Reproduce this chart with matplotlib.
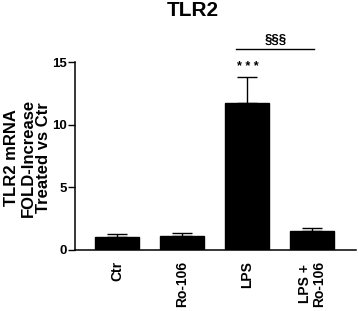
import matplotlib
matplotlib.use("Agg")
import matplotlib.pyplot as plt

# data
groups = ["Ctr", "Ro-106", "LPS", "LPS +\nRo-106"]
means = [1.04, 1.12, 11.77, 1.52]
sem = [0.19, 0.24, 2.08, 0.19]
ylabel_lines = ["TLR2 mRNA", "FOLD-Increase", "Treated vs Ctr"]

plt.rcParams["font.family"] = ["Liberation Sans", "DejaVu Sans"]
plt.rcParams["font.weight"] = "bold"

W, H = 358, 311
fig = plt.figure(figsize=(W / 100, H / 100), dpi=100)
ax = fig.add_axes([75 / W, 1 - 249.7 / H, 281 / W, (249.7 - 62.3) / H])

x = list(range(len(groups)))
ax.bar(x, means, width=0.675, color="black", edgecolor="black", zorder=2)
ax.errorbar(x, means, yerr=[[0] * len(sem), sem], fmt="none", ecolor="black",
            elinewidth=1.0, capsize=7.5, capthick=1.0, zorder=1)

ax.set_xlim(-0.65, 3.68)
ax.set_ylim(0, 15)
ax.set_yticks([0, 5, 10, 15])
ax.set_xticks(x)
ax.set_xticklabels(groups, rotation=90, fontsize=10, fontweight="bold",
                   linespacing=1.0)
ax.tick_params(axis="y", labelsize=9.5, width=1, length=5, pad=1)
ax.tick_params(axis="x", length=0, pad=8)
for lab in ax.get_yticklabels():
    lab.set_fontweight("bold")

for s in ["top", "right"]:
    ax.spines[s].set_visible(False)
for s in ["left", "bottom"]:
    ax.spines[s].set_linewidth(1.1)

# y label, one line per text so the tight spacing of the original is kept
for xp, line in zip([11.5, 28, 44], ylabel_lines):
    fig.text(xp / W, 1 - 158 / H, line, rotation=90, ha="center", va="center",
             fontsize=12, fontweight="bold")

# significance marks
ax.text(2.01, 13.85 + 0.3, "* * *", ha="center", va="bottom", fontsize=9)
ax.plot([1.83, 3.04], [16.05, 16.05], color="black", lw=1.0, clip_on=False)
ax.text(2.44, 16.35, "§§§", ha="center", va="bottom", fontsize=9.5,
        fontweight="bold")

fig.text(193 / W, 1 - 10 / H, "TLR2", ha="center", va="center",
         fontsize=15, fontweight="bold")

fig.savefig("out.png", dpi=100)
